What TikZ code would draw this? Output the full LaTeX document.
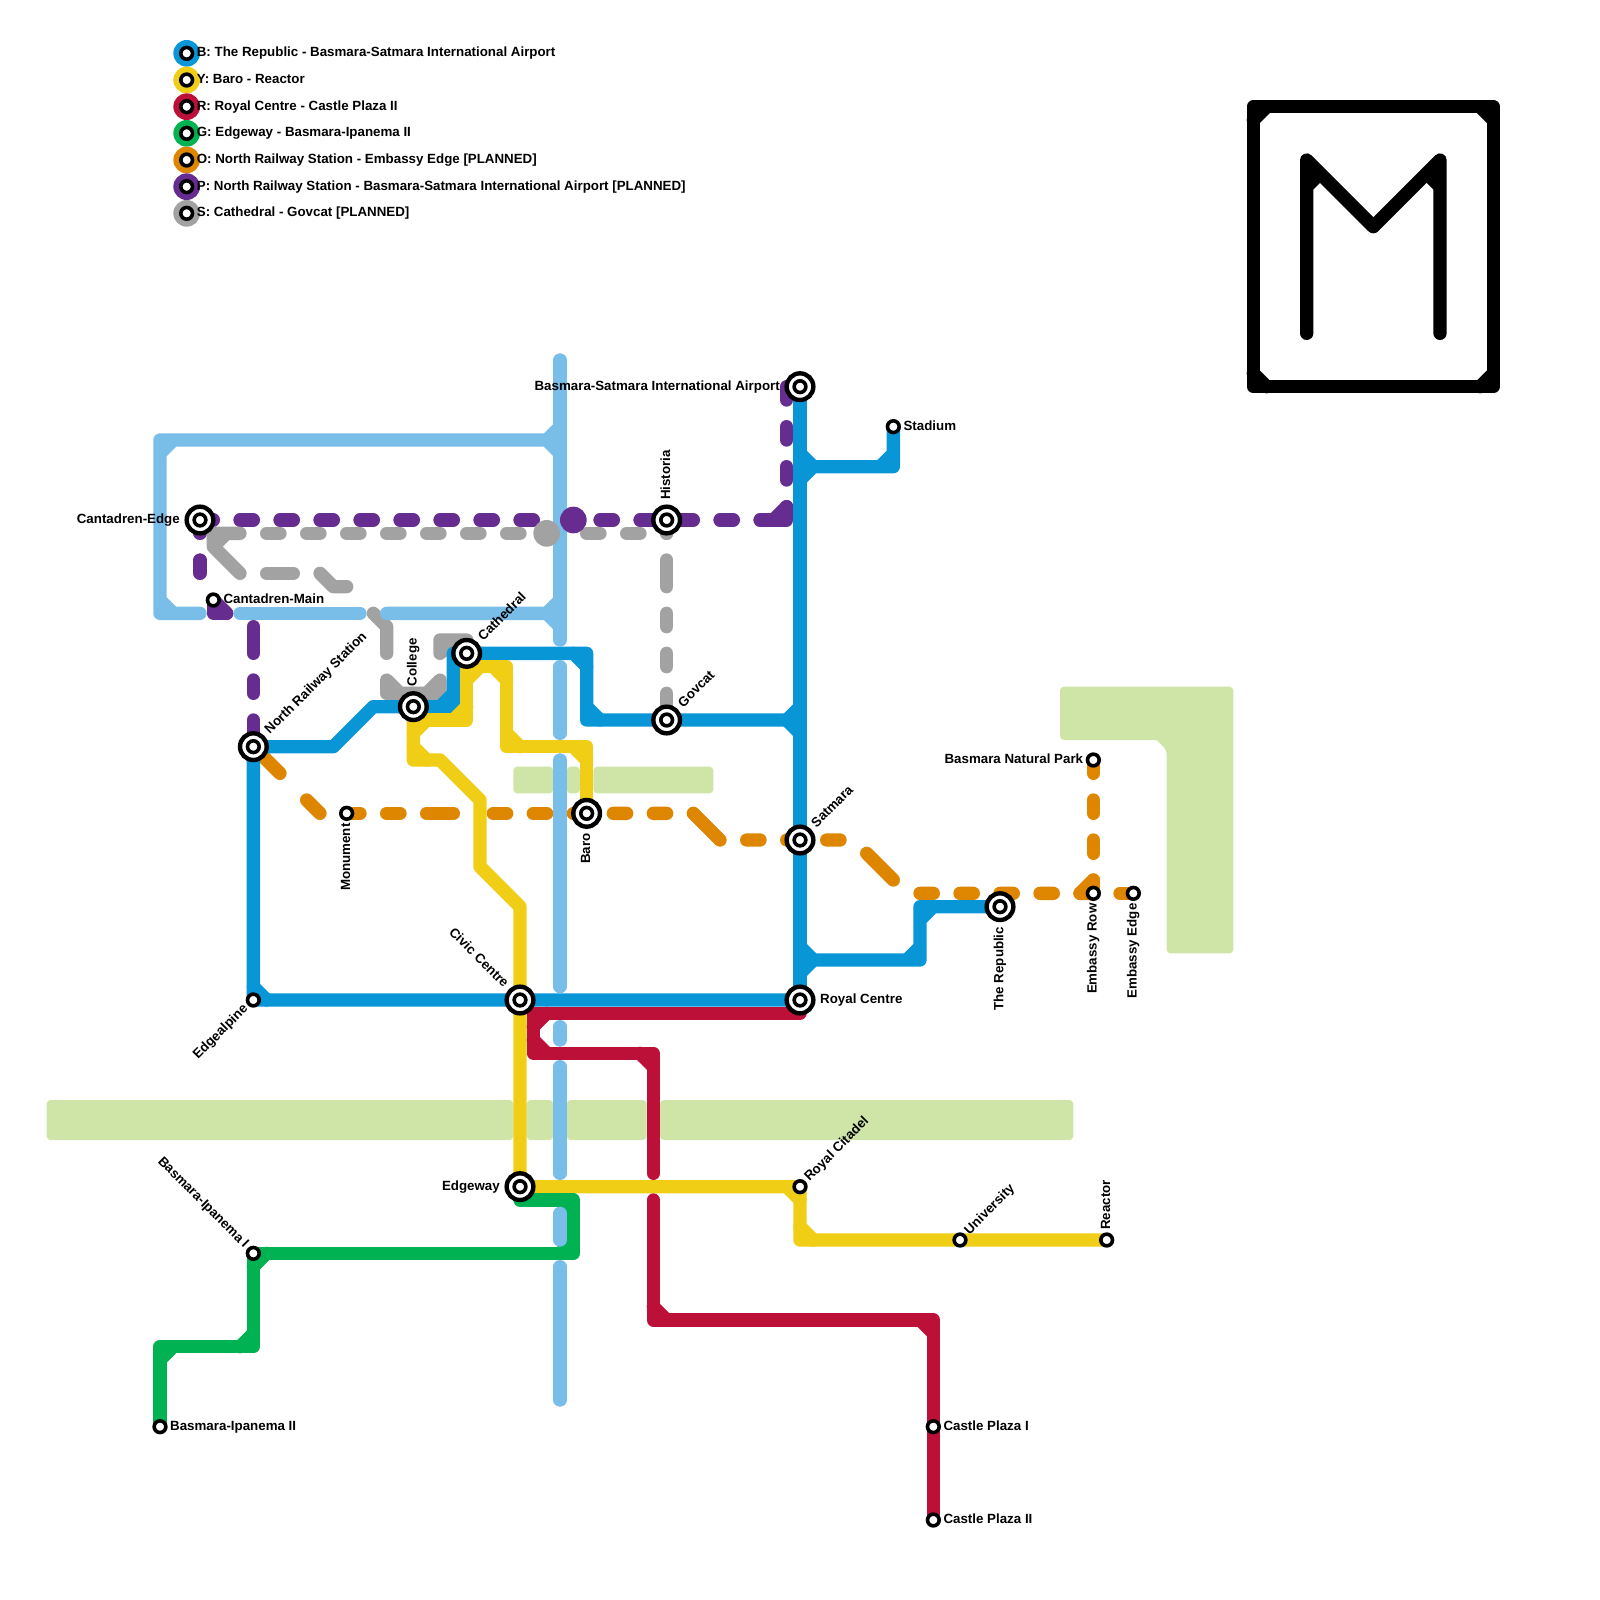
\documentclass[tikz,border=0pt]{standalone}
\usepackage{fontspec}
\setmainfont{Liberation Sans}
\definecolor{lineblue}{RGB}{8,150,215}
\definecolor{linesky}{RGB}{121,189,233}
\definecolor{lineyellow}{RGB}{240,206,21}
\definecolor{linered}{RGB}{189,16,56}
\definecolor{linegreen}{RGB}{0,178,81}
\definecolor{lineorange}{RGB}{223,134,0}
\definecolor{linepurple}{RGB}{102,44,144}
\definecolor{linegray}{RGB}{162,162,162}
\definecolor{parkgreen}{RGB}{207,228,167}
\newdimen\gu
\gu=13.3333pt
\pgfdeclarelayer{lines}
\pgfsetlayers{lines,main}
\tikzset{
    route/.style={line width=\gu,line cap=round,line join=round},
    stopmark/.style={circle,draw=black,fill=white,line width=3.6pt,minimum size=11.7pt,inner sep=0pt},
    hubmark/.style={stopmark,line width=4.4pt,minimum size=26.67pt,
        path picture={\draw[black,line width=3.6pt,fill=white] (path picture bounding box.center) circle (5.85pt);}},
    keydot/.style={circle,minimum size=2\gu,inner sep=0pt},
    bigdot/.style={circle,minimum size=2\gu,inner sep=0pt},
    lbl/.style={font=\bfseries\fontsize{13.33}{16}\selectfont,inner sep=0pt},
    tagE/.style 2 args={lbl,rotate=#1,xshift=#2,yshift=-3.33pt,anchor=base west},
    tagW/.style 2 args={lbl,rotate=#1,xshift=-#2,yshift=-3.33pt,anchor=base east},
    park/.style={fill=parkgreen,rounded corners=4pt}
}

\begin{document}
\begin{tikzpicture}[x=\gu,y=-\gu]
\useasboundingbox (0,0) rectangle (120,120);

% stations
\node[hubmark] (cantedge) at (15,39) {};
\node[stopmark] (cantmain) at (16,45) {};
\node[hubmark] (north) at (19,56) {};
\node[hubmark] (college) at (31,53) {};
\node[hubmark] (cathedral) at (35,49) {};
\node[hubmark] (airport) at (60,29) {};
\node[stopmark] (stadium) at (67,32) {};
\node[hubmark] (historia) at (50,39) {};
\node[hubmark] (govcat) at (50,54) {};
\node[hubmark] (satmara) at (60,63) {};
\node[hubmark] (royalc) at (60,75) {};
\node[hubmark] (republic) at (75,68) {};
\node[stopmark] (naturalpark) at (82,57) {};
\node[stopmark] (emrow) at (82,67) {};
\node[stopmark] (emedge) at (85,67) {};
\node[stopmark] (monument) at (26,61) {};
\node[hubmark] (baro) at (44,61) {};
\node[hubmark] (civic) at (39,75) {};
\node[stopmark] (edgealpine) at (19,75) {};
\node[hubmark] (edgeway) at (39,89) {};
\node[stopmark] (citadel) at (60,89) {};
\node[stopmark] (university) at (72,93) {};
\node[stopmark] (reactor) at (83,93) {};
\node[stopmark] (ipanemaone) at (19,94) {};
\node[stopmark] (ipanematwo) at (12,107) {};
\node[stopmark] (castleone) at (70,107) {};
\node[stopmark] (castletwo) at (70,114) {};

% station names
\node[tagE={0}{10pt}] (tcantmain) at (cantmain.center) {Cantadren-Main};
\node[tagE={0}{10pt}] (tstadium) at (stadium.center) {Stadium};
\node[tagE={0}{20pt}] (troyalc) at (royalc.center) {Royal Centre};
\node[tagE={0}{10pt}] (tipanematwo) at (ipanematwo.center) {Basmara-Ipanema II};
\node[tagE={0}{10pt}] (tcastleone) at (castleone.center) {Castle Plaza I};
\node[tagE={0}{10pt}] (tcastletwo) at (castletwo.center) {Castle Plaza II};
\node[tagW={0}{20pt}] (tcantedge) at (cantedge.center) {Cantadren-Edge};
\node[tagW={0}{20pt}] (tairport) at (airport.center) {Basmara-Satmara International Airport};
\node[tagW={0}{10pt}] (tnaturalpark) at (naturalpark.center) {Basmara Natural Park};
\node[tagW={0}{20pt}] (tedgeway) at (edgeway.center) {Edgeway};
\node[tagE={45}{20pt}] (tnorth) at (north.center) {North Railway Station};
\node[tagE={45}{20pt}] (tcathedral) at (cathedral.center) {Cathedral};
\node[tagE={45}{20pt}] (tgovcat) at (govcat.center) {Govcat};
\node[tagE={45}{20pt}] (tsatmara) at (satmara.center) {Satmara};
\node[tagE={45}{10pt}] (tcitadel) at (citadel.center) {Royal Citadel};
\node[tagE={45}{10pt}] (tuniversity) at (university.center) {University};
\node[tagE={90}{10pt}] (treactor) at (reactor.center) {Reactor};
\node[tagE={90}{20pt}] (thistoria) at (historia.center) {Historia};
\node[tagE={90}{20pt}] (tcollege) at (college.center) {College};
\node[tagW={90}{10pt}] (tmonument) at (monument.center) {Monument};
\node[tagW={90}{20pt}] (tbaro) at (baro.center) {Baro};
\node[tagW={90}{20pt}] (trepublic) at (republic.center) {The Republic};
\node[tagW={90}{10pt}] (temrow) at (emrow.center) {Embassy Row};
\node[tagW={90}{10pt}] (temedge) at (emedge.center) {Embassy Edge};
\node[tagW={45}{10pt}] (tedgealpine) at (edgealpine.center) {Edgealpine};
\node[tagW={-45}{20pt}] (tcivic) at (civic.center) {Civic Centre};
\node[tagW={-45}{10pt}] (tipanemaone) at (ipanemaone.center) {Basmara-Ipanema I};

% key
\foreach \keyname/\keycol/\keyy/\keytxt in {
    b/lineblue/4/{B: The Republic - Basmara-Satmara International Airport},
    y/lineyellow/6/{Y: Baro - Reactor},
    r/linered/8/{R: Royal Centre - Castle Plaza II},
    g/linegreen/10/{G: Edgeway - Basmara-Ipanema II},
    o/lineorange/12/{O: North Railway Station - Embassy Edge [PLANNED]},
    p/linepurple/14/{P: North Railway Station - Basmara-Satmara International Airport [PLANNED]},
    s/linegray/16/{S: Cathedral - Govcat [PLANNED]}}
{
    \node[keydot,fill=\keycol] (keydot\keyname) at (14,\keyy) {};
    \node[stopmark] (keystop\keyname) at (keydot\keyname.center) {};
    \node[lbl,anchor=base west,yshift=-3.33pt,xshift=10pt] (keytext\keyname) at (keydot\keyname.center) {\keytxt};
}

\begin{pgfonlayer}{lines}
% parks
\fill[park] (3.5,82.5) rectangle (38.5,85.5);
\fill[park] (39.5,82.5) rectangle (41.5,85.5);
\fill[park] (42.5,82.5) rectangle (48.5,85.5);
\fill[park] (49.5,82.5) rectangle (80.5,85.5);
\fill[park] (38.5,57.5) rectangle (41.5,59.5);
\fill[park] (42.5,57.5) rectangle (43.5,59.5);
\fill[park] (44.5,57.5) rectangle (53.5,59.5);
\fill[park] (79.5,51.5) -- (92.5,51.5) -- (92.5,71.5) -- (87.5,71.5) -- (87.5,56.25) {[sharp corners] -- (86.75,55.5)} -- (79.5,55.5) -- cycle;

% planned O
\begin{scope}[lineorange]
\draw[route,dash pattern=on 2.828\gu off 2.828\gu on 1.414\gu off 9\gu] (north.center) -- (24,61) -- (monument.center);
\draw[route,dash pattern=on 1\gu off 2\gu on 1\gu off 2\gu on 2\gu off 3\gu on 1\gu off 2\gu on 1\gu off 2\gu on 1\gu off 9\gu] (monument.center) -- (baro.center);
\draw[route,dash pattern=on 1\gu off 2\gu on 1\gu off 2\gu on 2.828\gu off 2\gu on 1\gu off 2\gu on 1\gu off 2\gu,dash phase=14.828\gu] (baro.center) -- (52,61) -- (54,63) -- (satmara.center);
\draw[route,dash pattern=on 1\gu off 2.414\gu on 2.828\gu off 2.414\gu on 1\gu off 2\gu on 1\gu off 2\gu on 1\gu off 2\gu on 1\gu off 2\gu on 1\gu off 2\gu,dash phase=21.656\gu] (satmara.center) -- (64,63) -- (68,67) -- (emrow.center);
\draw[route,dash pattern=on 1\gu off 2\gu,dash phase=1\gu] (emrow.center) -- (emedge.center);
\draw[route,dash pattern=on 1\gu off 2\gu] (naturalpark.center) -- (emrow.center);
\draw[route] (82,66) -- (81,67);
\end{scope}

% planned P
\begin{scope}[linepurple]
\draw[route,dash pattern=on 1\gu off 2\gu on 1\gu off 2\gu on 2\gu off 3\gu on 2\gu off 1\gu,dash phase=13\gu] (north.center) -- (19,46) -- (16,46) -- (cantmain.center);
\draw[route] (16,45) -- (17,46);
\draw[route,dash pattern=on 1\gu off 2\gu on 1\gu off 9\gu] (cantedge.center) -- (15,44) -- (cantmain.center);
\draw[route,dash pattern=on 1\gu off 2\gu] (cantedge.center) -- (historia.center);
\draw[route,dash pattern=on 2\gu off 2\gu on 1\gu off 2\gu on 1\gu off 2\gu on 3\gu off 2\gu on 1\gu off 2\gu on 1\gu off 9\gu] (airport.center) -- (59,29) -- (59,39) -- (historia.center);
\draw[route] (59,38) -- (58,39);
\end{scope}

% planned S
\begin{scope}[linegray]
\draw[route] (cathedral.center) -- (35,48) -- (33,48) -- (33,49) (34,48) -- (33,49);
\draw[route] (college.center) -- (33,51) -- (33,52) -- (31,52);
\draw[route] (college.center) -- (29,51) -- (29,52) -- (31,52);
\draw[route] (29,49) -- (29,47) -- (28,46);
\draw[route] (26,44) -- (25,44) -- (24,43);
\draw[route] (22,43) -- (20,43);
\draw[route] (18,43) -- (16,41) -- (16,40) -- (18,40) (17,40) -- (16,41);
\draw[route,dash pattern=on 1\gu off 2\gu] (20,40) -- (50,40);
\draw[route] (historia.center) -- (50,40);
\draw[route,dash pattern=on 2\gu off 2\gu on 1\gu off 2\gu on 1\gu off 2\gu on 2\gu off 9\gu] (govcat.center) -- (50,40);
\end{scope}

% B
\begin{scope}[lineblue]
\draw[route] (airport.center) -- (royalc.center);
\draw[route] (stadium.center) -- (67,35) -- (60,35) (67,34) -- (66,35) (60,34) -- (61,35) -- (60,36);
\draw[route] (republic.center) -- (69,68) -- (69,72) -- (60,72) (70,68) -- (69,69) (69,71) -- (68,72) (60,71) -- (61,72) -- (60,73);
\draw[route] (royalc.center) -- (civic.center) -- (edgealpine.center) -- (north.center) -- (25,56) -- (28,53) -- (college.center) -- (34,53) -- (34,49) -- (cathedral.center) -- (44,49) -- (44,54) -- (govcat.center) -- (60,54);
\draw[route] (19,74) -- (20,75) (34,52) -- (33,53) (43,49) -- (44,50) (44,53) -- (45,54) (60,53) -- (59,54) -- (60,55);
\end{scope}

% Y
\begin{scope}[lineyellow]
\draw[route] (baro.center) -- (44,56) -- (38,56) -- (38,50) -- (35,50) -- (35,54) -- (31,54);
\draw[route] (43,56) -- (44,57) (38,55) -- (39,56) (37,50) -- (38,51) (36,50) -- (35,51) (35,53) -- (34,54) (32,54) -- (31,55);
\draw[route] (college.center) -- (31,57) -- (33,57) -- (36,60) -- (36,65) -- (39,68) -- (edgeway.center) -- (citadel.center) -- (60,93) -- (reactor.center);
\draw[route] (31,56) -- (32,57) (59,89) -- (60,90) (60,92) -- (61,93);
\end{scope}

% R
\begin{scope}[linered]
\draw[route] (60,76) -- (40,76) -- (40,79) -- (49,79) -- (49,88);
\draw[route] (41,76) -- (40,77) (40,78) -- (41,79) (48,79) -- (49,80);
\draw[route] (49,90) -- (49,99) -- (70,99) -- (castletwo.center);
\draw[route] (49,98) -- (50,99) (69,99) -- (70,100);
\end{scope}

% G
\begin{scope}[linegreen]
\draw[route] (39,90) -- (43,90) -- (43,94) -- (ipanemaone.center) -- (19,101) -- (12,101) -- (ipanematwo.center);
\draw[route] (42,90) -- (43,91) (43,93) -- (42,94) (20,94) -- (19,95) (19,100) -- (18,101) (13,101) -- (12,102);
\end{scope}

% sky blue line, not in the key
\begin{scope}[linesky]
\draw[route] (42,27) -- (42,48);
\foreach \ya/\yb in {50/55,57/74,77/78,80/88,91/93,95/105}
    \draw[route] (42,\ya) -- (42,\yb);
\draw[route] (42,33) -- (12,33) -- (12,46) -- (15,46) (41,33) -- (42,32) (41,33) -- (42,34) (13,33) -- (12,34) (12,45) -- (13,46);
\draw[route] (18,46) -- (27,46);
\draw[route] (29,46) -- (42,46) (41,46) -- (42,45) (41,46) -- (42,47);
\end{scope}

% line ends at the crossing
\node[bigdot,fill=linepurple] (purpledot) at (43,39) {};
\node[bigdot,fill=linegray] (graydot) at (41,40) {};

% logo
\draw[route,black] (94,8) rectangle (112,29);
\draw[route,black] (94,9) -- (95,8) (111,8) -- (112,9) (94,28) -- (95,29) (111,29) -- (112,28);
\draw[route,black] (98,25) -- (98,12) -- (103,17) -- (108,12) -- (108,25) (98,14) -- (99,13) (108,14) -- (107,13);
\end{pgfonlayer}
\end{tikzpicture}
\end{document}
